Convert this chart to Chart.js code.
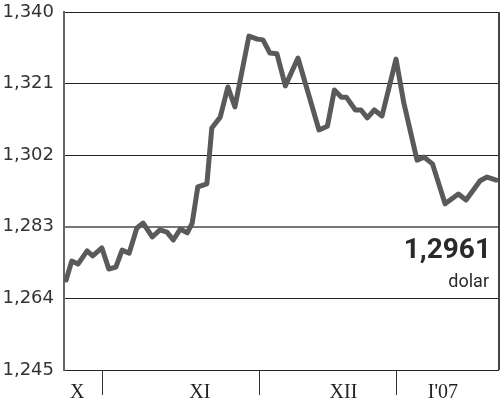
<!DOCTYPE html>
<html>
<head>
<meta charset="utf-8">
<script src="https://cdn.jsdelivr.net/npm/chart.js@4"></script>
<style>
  html, body { margin: 0; padding: 0; background: #fff; }
  #wrap { width: 500px; height: 402px; position: relative; }
</style>
</head>
<body>
<div id="wrap"><canvas id="chart" width="500" height="402"></canvas></div>
<script>
// trading day index (from mid Oct 2006) and EUR/USD rate at each turning point
const days = [0.3, 1.1, 2, 3.3, 4.1, 5.4, 6.4, 7.4, 8.3, 9.3, 10.4, 11.3, 12.6, 13.7, 14.7, 15.6,
  16.6, 17.6, 18.3, 19.1, 20.4, 21.1, 22.3, 23.4, 24.4, 26.4, 27.6, 28.4, 29.4, 30.4, 31.6,
  33.4, 36.4, 37.6, 38.6, 39.6, 40.3, 41.6, 42.4, 43.3, 44.3, 45.4, 47.4, 48.5, 50.4, 51.4,
  52.6, 54.4, 56.3, 57.4, 59.4, 60.4, 61.7];
const rates = [1.2689, 1.2739, 1.2731, 1.2766, 1.2753, 1.2774, 1.2718, 1.2723, 1.2768, 1.2760,
  1.2827, 1.2840, 1.2803, 1.2822, 1.2816, 1.2795, 1.2824, 1.2814, 1.2840, 1.2936, 1.2944,
  1.3092, 1.3121, 1.3201, 1.3148, 1.3336, 1.3328, 1.3326, 1.3291, 1.3289, 1.3204, 1.3278,
  1.3087, 1.3097, 1.3193, 1.3174, 1.3174, 1.3140, 1.3140, 1.3119, 1.3140, 1.3124, 1.3275,
  1.3160, 1.3007, 1.3015, 1.2997, 1.2891, 1.2917, 1.2901, 1.2952, 1.2962, 1.2954];

const yTicks = [1.245, 1.264, 1.283, 1.302, 1.321, 1.340];
const monthLabels = ['X', 'XI', 'XII', "I'07"];
const monthLabelDays = [1.9, 19.4, 39.9, 54.1];
const monthBreaks = [5.4, 27.9, 47.4];
const lastValue = '1,2961';
const unitLabel = 'dolar';

const frame = {
  id: 'frame',
  afterDraw(chart) {
    const ctx = chart.ctx;
    const area = chart.chartArea;
    const x = chart.scales.x;
    ctx.save();
    // right border
    ctx.strokeStyle = '#444';
    ctx.lineWidth = 2;
    ctx.beginPath();
    ctx.moveTo(area.right, area.top);
    ctx.lineTo(area.right, area.bottom);
    ctx.stroke();
    // month separators below the axis
    ctx.strokeStyle = '#333';
    ctx.lineWidth = 1;
    monthBreaks.forEach(d => {
      const px = Math.round(x.getPixelForValue(d)) + 0.5;
      ctx.beginPath();
      ctx.moveTo(px, area.bottom);
      ctx.lineTo(px, area.bottom + 25);
      ctx.stroke();
    });
    // month names
    ctx.fillStyle = '#222';
    ctx.font = '20px "Liberation Serif"';
    ctx.textAlign = 'center';
    ctx.textBaseline = 'alphabetic';
    monthLabels.forEach((m, i) => {
      ctx.fillText(m, x.getPixelForValue(monthLabelDays[i]), area.bottom + 28);
    });
    // last value note
    ctx.textAlign = 'right';
    ctx.fillStyle = '#2a2a2a';
    ctx.font = 'bold 28px Roboto';
    ctx.fillText(lastValue, 491, 258);
    ctx.font = '18px Roboto';
    ctx.fillText(unitLabel, 489, 287);
    ctx.restore();
  }
};

new Chart(document.getElementById('chart'), {
  type: 'line',
  data: {
    datasets: [{
      data: days.map((d, i) => ({ x: d, y: rates[i] })),
      borderColor: '#5a5a5a',
      borderWidth: 5,
      pointRadius: 0,
      tension: 0,
      borderJoinStyle: 'round',
      borderCapStyle: 'round',
    }],
  },
  options: {
    responsive: false,
    animation: false,
    layout: { padding: { top: 12, right: 1, bottom: 32, left: 0 } },
    plugins: { legend: { display: false }, tooltip: { enabled: false } },
    scales: {
      x: {
        type: 'linear',
        display: false,
        min: 0,
        max: 62.1,
      },
      y: {
        min: 1.245,
        max: 1.340,
        afterFit: (scale) => {
          scale.width = 64;
          scale.paddingTop = 0;
          scale.paddingBottom = 0;
        },
        afterBuildTicks: (scale) => { scale.ticks = yTicks.map(v => ({ value: v })); },
        border: { display: true, color: '#666', width: 2 },
        grid: {
          drawTicks: false,
          color: (c) => (c.tick && Math.abs(c.tick.value - 1.283) < 1e-6 ? '#777' : '#222'),
          lineWidth: (c) => (c.tick && Math.abs(c.tick.value - 1.283) < 1e-6 ? 2 : 1),
        },
        ticks: {
          padding: 10,
          color: '#333',
          font: { family: '"DejaVu Sans"', size: 18, weight: '400' },
          callback: (v) => v.toFixed(3).replace('.', ','),
        },
      },
    },
  },
  plugins: [frame],
});
</script>
</body>
</html>
